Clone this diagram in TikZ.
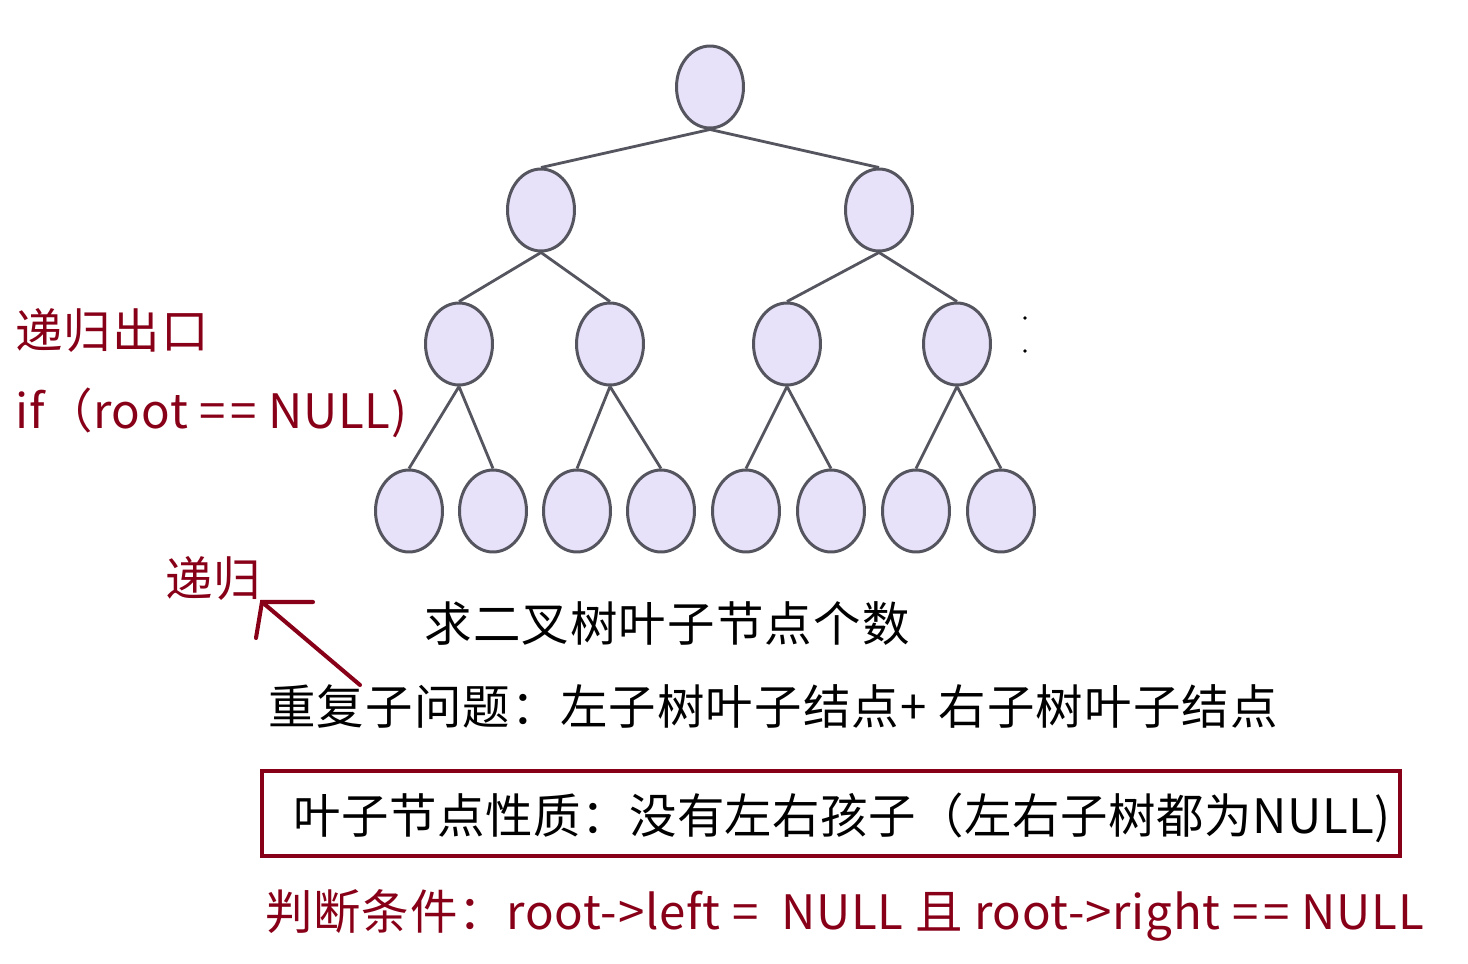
\documentclass[tikz,border=0pt]{standalone}
\usepackage{fontspec}
\setmainfont{Noto Sans CJK SC}
\usepackage{tikz}
\usetikzlibrary{shapes.geometric}
\definecolor{nodefill}{HTML}{E8E1FA}
\definecolor{nodeline}{HTML}{55555F}
\definecolor{darkred}{HTML}{880018}

\begin{document}
\begin{tikzpicture}[x=0.02cm,y=-0.02cm,
  tnode/.style={ellipse,draw=nodeline,line width=1.7pt,fill=nodefill,
    minimum width=1.34cm,minimum height=1.64cm,inner sep=0pt},
  edge/.style={draw=nodeline,line width=1.6pt},
  txt/.style={font=\fontsize{27}{32}\selectfont\addfontfeature{LetterSpace=#1},
    inner sep=0pt,anchor=west},
  txt/.default=2.5,
  note/.style={txt=#1,text=darkred},
  note/.default=2.5,
  redline/.style={draw=darkred,line width=2.3pt,line cap=round}
]
\useasboundingbox (0,0) rectangle (1468,964);
% tree
\node[tnode] (r) at (710,87) {};
\node[tnode] (l) at (541,210) {};
\node[tnode] (rr) at (879,210) {};
\node[tnode] (ll) at (459,344) {};
\node[tnode] (lr) at (610,344) {};
\node[tnode] (rl) at (787,344) {};
\node[tnode] (rrr) at (957,344) {};
\node[tnode] (lll) at (409,511) {};
\node[tnode] (llr) at (493,511) {};
\node[tnode] (lrl) at (577,511) {};
\node[tnode] (lrr) at (661,511) {};
\node[tnode] (rll) at (746,511) {};
\node[tnode] (rlr) at (831,511) {};
\node[tnode] (rrl) at (916,511) {};
\node[tnode] (rrrr) at (1001,511) {};
\draw[edge] (r.south) -- (l.north) (r.south) -- (rr.north);
\draw[edge] (l.south) -- (ll.north) (l.south) -- (lr.north);
\draw[edge] (rr.south) -- (rl.north) (rr.south) -- (rrr.north);
\draw[edge] (ll.south) -- (lll.north) (ll.south) -- (llr.north);
\draw[edge] (lr.south) -- (lrl.north) (lr.south) -- (lrr.north);
\draw[edge] (rl.south) -- (rll.north) (rl.south) -- (rlr.north);
\draw[edge] (rrr.south) -- (rrl.north) (rrr.south) -- (rrrr.north);
\fill[black] (1025,318) circle (1.8) (1025,351) circle (1.8);
% texts
\node[note] (exit) at (15,330) {递归出口};
\node[note=1.5] (cond) at (15,413) {if（root =\hspace{3pt}= NULL)};
\node[note] (rec) at (165,578) {递归};
\node[txt,anchor=center] (title) at (667,624) {求二叉树叶子节点个数};
\node[txt] (sub) at (268,706) {重复子问题：左子树叶子结点+ 右子树叶子结点};
\node[txt=1.1] (prop) at (293,818) {叶子节点性质：没有左右孩子（左右子树都为NULL)};
\draw[draw=darkred,line width=2.2pt] (262,771) rectangle (1400,856);
\node[note=1.7] (judge) at (265,915) {判断条件：root->left =~ NULL 且 root->right =\hspace{3pt}= NULL};
% arrow
\coordinate (tip) at (262,602);
\coordinate (tail) at (360,685);
\draw[redline] (tail) -- (tip);
\draw[redline] (313,602) -- (tip) -- (256,638);
\end{tikzpicture}
\end{document}
